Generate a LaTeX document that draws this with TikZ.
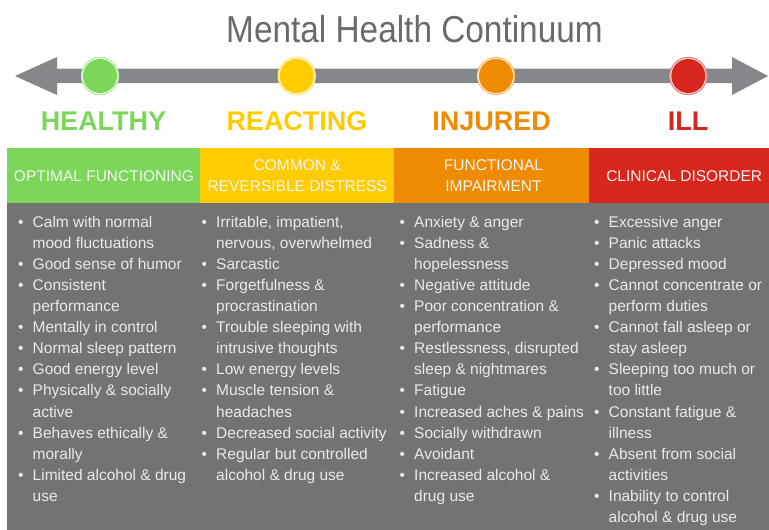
\documentclass[tikz,border=0pt]{standalone}
\usepackage{fontspec}
\setmainfont{Liberation Sans}
\newfontfamily\titlefont[FakeStretch=0.89]{Liberation Sans}
\definecolor{cgreen}{HTML}{7BD65A}
\definecolor{cyellow}{HTML}{FFCC00}
\definecolor{corange}{HTML}{EE8B00}
\definecolor{cred}{HTML}{D7261E}
\definecolor{bargray}{HTML}{85878A}
\definecolor{titlegray}{HTML}{6A6A6A}
\definecolor{bodygray}{HTML}{737373}
\definecolor{bodytext}{HTML}{EAEAEA}
\definecolor{hdrtext}{HTML}{F4F4F4}
\newcommand{\mhb}{\makebox[14.5pt][l]{•}}
\newcommand{\mhc}{\hspace*{14.5pt}}
\begin{document}
\begin{tikzpicture}[x=1pt,y=-1pt,
  lab/.style={font=\bfseries\fontsize{27}{30}\selectfont, anchor=base, inner sep=0},
  hdrbox/.style={anchor=north west, minimum height=55, inner sep=0, draw=none},
  hdrtxt/.style={font=\fontsize{15.5}{21}\selectfont, text=hdrtext, align=center, inner sep=0},
  listtxt/.style={font=\fontsize{15.5}{21.1}\selectfont, text=bodytext, align=left, anchor=north west, inner sep=0}]
\useasboundingbox (0,0) rectangle (769,530);
% title
\node[font=\titlefont\fontsize{37.5}{40}\selectfont, text=titlegray, anchor=base, inner sep=0] (title) at (414.5,42) {Mental Health Continuum};
% arrow
\coordinate (ltip) at (15,76);
\coordinate (rtip) at (768,76);
\fill[bargray] (ltip) -- (57,57) -- (57,68.7) -- (732,68.7) -- (732,57) -- (rtip) -- (732,95) -- (732,83.2) -- (57,83.2) -- (57,95) -- cycle;
% circles
\foreach \n/\c/\x in {cg/cgreen/100, cy/cyellow/296.7, co/corange/496, cr/cred/688.3}{
  \fill[\c!55] (\x,76) circle (19.2);
  \fill[white!85!\c] (\x,76) circle (18.0);
  \node[circle, fill=\c, minimum size=34, inner sep=0] (\n) at (\x,76) {};
}
% labels
\node[lab, text=cgreen] (healthy) at (103.5,130) {HEALTHY};
\node[lab, text=cyellow] (reacting) at (297,130) {REACTING};
\node[lab, text=corange] (injured) at (491.7,130) {INJURED};
\node[lab, text=cred] (ill) at (688,130) {ILL};
% headers
\node[hdrbox, fill=cgreen, minimum width=193.5] (h1) at (7,148) {};
\node[hdrbox, fill=cyellow, minimum width=194] (h2) at (200,148) {};
\node[hdrbox, fill=corange, minimum width=195.5] (h3) at (394,148) {};
\node[hdrbox, fill=cred, minimum width=192] (h4) at (589,148) {};
\node[hdrtxt] (t1) at (h1.center) {OPTIMAL FUNCTIONING};
\node[hdrtxt] (t2) at ([yshift=0.5]h2.center) {COMMON \&\\REVERSIBLE DISTRESS};
\node[hdrtxt] (t3) at ([xshift=1.5,yshift=0.5]h3.center) {FUNCTIONAL\\IMPAIRMENT};
\node[hdrtxt] (t4) at ([xshift=-1]h4.center) {CLINICAL DISORDER};
% body
\fill[bodygray] (7,203) rectangle (781,540);
\node[listtxt] (l1) at (18,212.2) {\strut\mhb Calm with normal\\
\mhc mood fluctuations\\
\mhb Good sense of humor\\
\mhb Consistent\\
\mhc performance\\
\mhb Mentally in control\\
\mhb Normal sleep pattern\\
\mhb Good energy level\\
\mhb Physically \& socially\\
\mhc active\\
\mhb Behaves ethically \&\\
\mhc morally\\
\mhb Limited alcohol \& drug\\
\mhc use};
\node[listtxt] (l2) at (201.5,212.2) {\strut\mhb Irritable, impatient,\\
\mhc nervous, overwhelmed\\
\mhb Sarcastic\\
\mhb Forgetfulness \&\\
\mhc procrastination\\
\mhb Trouble sleeping with\\
\mhc intrusive thoughts\\
\mhb Low energy levels\\
\mhb Muscle tension \&\\
\mhc headaches\\
\mhb Decreased social activity\\
\mhb Regular but controlled\\
\mhc alcohol \& drug use};
\node[listtxt] (l3) at (399.5,212.2) {\strut\mhb Anxiety \& anger\\
\mhb Sadness \&\\
\mhc hopelessness\\
\mhb Negative attitude\\
\mhb Poor concentration \&\\
\mhc performance\\
\mhb Restlessness, disrupted\\
\mhc sleep \& nightmares\\
\mhb Fatigue\\
\mhb Increased aches \& pains\\
\mhb Socially withdrawn\\
\mhb Avoidant\\
\mhb Increased alcohol \&\\
\mhc drug use};
\node[listtxt] (l4) at (594,212.2) {\strut\mhb Excessive anger\\
\mhb Panic attacks\\
\mhb Depressed mood\\
\mhb Cannot concentrate or\\
\mhc perform duties\\
\mhb Cannot fall asleep or\\
\mhc stay asleep\\
\mhb Sleeping too much or\\
\mhc too little\\
\mhb Constant fatigue \&\\
\mhc illness\\
\mhb Absent from social\\
\mhc activities\\
\mhb Inability to control\\
\mhc alcohol \& drug use};
\end{tikzpicture}
\end{document}
